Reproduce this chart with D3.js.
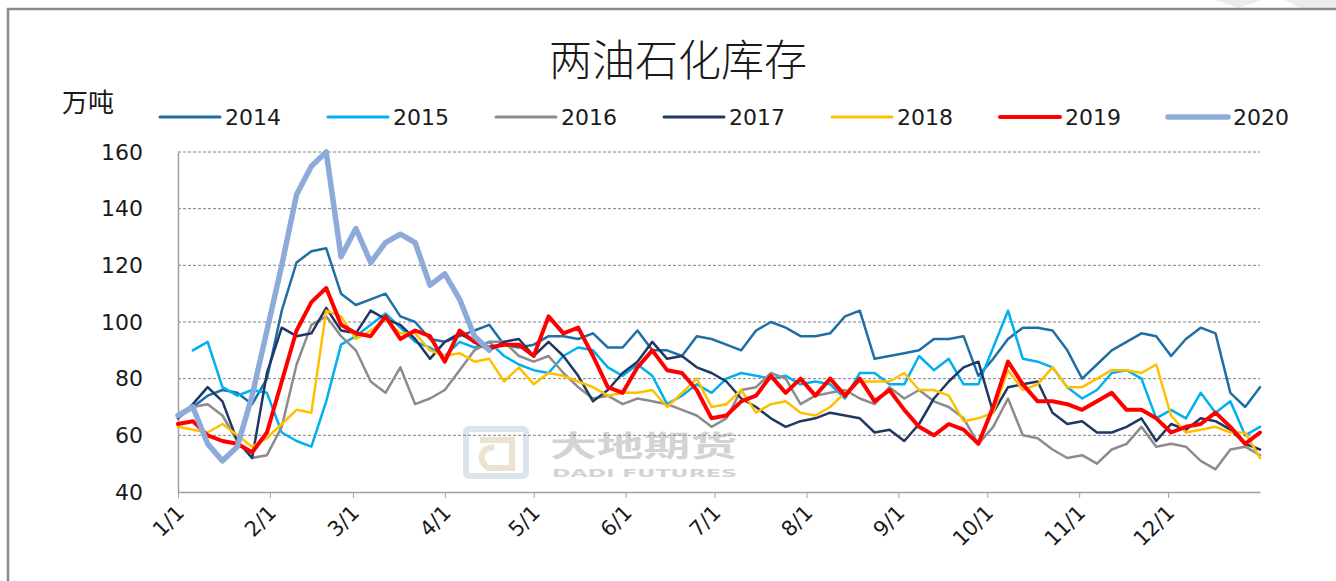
<!DOCTYPE html>
<html>
<head>
<meta charset="utf-8">
<script src="https://cdn.jsdelivr.net/npm/d3@7"></script>
<style>
  body { margin: 0; background: #fff; }
  svg { display: block; }
</style>
</head>
<body>
<svg id="chart"></svg>
<script>
// day offsets from 1/1 (one reading every 5 days)
const dayOffsets = [0,5,10,15,20,25,30,35,40,45,50,55,60,65,70,75,80,85,90,95,100,105,110,115,120,125,130,135,140,145,150,155,160,165,170,175,180,185,190,195,200,205,210,215,220,225,230,235,240,245,250,255,260,265,270,275,280,285,290,295,300,305,310,315,320,325,330,335,340,345,350,355,360,365];

const years = ['2014', '2015', '2016', '2017', '2018', '2019', '2020'];

const v2014 = [67,70,74,76,75,71,80,104,121,125,126,110,106,108,110,102,100,94,93,95,97,99,92,91,92,95,95,94,96,91,91,97,90,90,88,95,94,92,90,97,100,98,95,95,96,102,104,87,88,89,90,94,94,95,81,87,94,98,98,97,90,80,85,90,93,96,95,88,94,98,96,75,70,77];
const v2015 = [null,90,93,77,74,76,75,61,58,56,72,92,95,99,103,98,93,91,88,93,91,93,88,85,83,82,88,91,90,84,81,85,81,71,74,78,75,80,82,81,80,81,78,79,78,73,82,82,78,78,88,83,87,78,78,91,104,87,86,84,77,73,76,82,83,80,66,69,66,75,68,72,60,63];
const v2016 = [66,70,71,67,58,52,53,63,85,99,102,95,90,79,75,84,71,73,76,83,90,93,93,88,86,88,82,77,73,74,71,73,72,71,69,67,63,66,76,77,82,80,71,74,75,76,73,71,77,73,76,72,70,66,57,63,73,60,59,55,52,53,50,55,57,63,56,57,56,51,48,55,56,53];
const v2017 = [66,71,77,72,58,52,82,98,95,96,105,97,96,104,101,99,94,87,93,96,93,90,93,94,88,93,88,81,72,76,82,86,93,87,88,84,82,79,73,70,66,63,65,66,68,67,66,61,62,58,64,73,79,84,86,68,77,78,79,68,64,65,61,61,63,66,58,64,62,66,65,62,57,55];
const v2018 = [63,62,61,64,60,56,59,64,69,68,104,102,94,97,101,96,96,90,88,89,86,87,79,84,78,82,81,79,77,74,75,75,76,70,75,80,70,71,76,68,71,72,68,67,70,75,79,79,79,82,76,76,74,65,66,68,83,76,78,84,77,77,80,83,83,82,85,67,61,62,63,61,61,52];
const v2019 = [64,65,60,58,57,54,61,79,97,107,112,99,96,95,102,94,97,95,86,97,93,91,92,92,88,102,96,98,88,77,75,84,90,83,82,76,66,67,72,74,81,75,80,74,80,74,80,72,76,69,63,60,64,62,57,70,86,78,72,72,71,69,72,75,69,69,66,61,63,64,68,63,57,61];
const v2020 = [67,70,57,51,56,74,97,120,145,155,160,123,133,121,128,131,128,113,117,108,95,90];

const yTicks = [40, 60, 80, 100, 120, 140, 160];
const monthLabels = ['1/1','2/1','3/1','4/1','5/1','6/1','7/1','8/1','9/1','10/1','11/1','12/1'];

const seriesValues = [v2014, v2015, v2016, v2017, v2018, v2019, v2020];
const colors = ['#1f6ea5', '#00b0f0', '#8c8c8c', '#1f3864', '#ffc000', '#ff0000', '#8eaadb'];
const widths = [2.5, 2.5, 2.5, 2.5, 2.5, 4, 5.5];

const W = 1336, H = 581;
const plot = { left: 178, right: 1260, top: 152, bottom: 492 };
const start = new Date(2019, 0, 1);

const svg = d3.select('#chart').attr('width', W).attr('height', H);

// faint background shapes at the top right
svg.append('path')
    .attr('d', 'M1215,0 L1262,0 L1238,8 Z M1285,0 L1336,0 L1336,8 L1300,8 Z')
    .attr('fill', '#ececec');

// frame
svg.append('path')
    .attr('d', `M8,${H} L8,9 L${W},9`)
    .attr('fill', 'none')
    .attr('stroke', '#8a8a8a')
    .attr('stroke-width', 2.5);

// title
svg.append('text')
    .attr('x', 678).attr('y', 76)
    .attr('text-anchor', 'middle')
    .style('font-family', '"Noto Sans CJK SC", sans-serif')
    .style('font-weight', 300)
    .style('font-size', '43px')
    .attr('fill', '#1a1a1a')
    .text('两油石化库存');

svg.append('text')
    .attr('x', 62).attr('y', 112)
    .style('font-family', '"Noto Sans CJK SC", sans-serif')
    .style('font-size', '26px')
    .attr('fill', '#1a1a1a')
    .text('万吨');

const x = d3.scaleTime()
    .domain([start, new Date(2020, 0, 1)])
    .range([plot.left, plot.right]);

const y = d3.scaleLinear()
    .domain([40, 160])
    .range([plot.bottom, plot.top]);

// watermark
const wm = svg.append('g').attr('opacity', 0.5);
wm.append('rect')
    .attr('x', 466).attr('y', 429).attr('width', 60).attr('height', 47)
    .attr('rx', 3)
    .attr('fill', 'none')
    .attr('stroke', '#b9c9da')
    .attr('stroke-width', 6);
wm.append('path')
    .attr('d', 'M480,440 L512,440 L512,468 L488,468 C478,460 480,448 494,447')
    .attr('fill', 'none')
    .attr('stroke', '#d8c8a0')
    .attr('stroke-width', 6);
wm.append('text')
    .attr('x', 550).attr('y', 457)
    .attr('textLength', 187).attr('lengthAdjust', 'spacingAndGlyphs')
    .style('font-family', '"Noto Sans CJK SC", sans-serif')
    .style('font-weight', 'bold')
    .style('font-size', '29px')
    .attr('fill', '#a8a8a8')
    .text('大地期货');
wm.append('text')
    .attr('x', 552).attr('y', 477)
    .attr('textLength', 185).attr('lengthAdjust', 'spacingAndGlyphs')
    .style('font-family', '"DejaVu Sans", sans-serif')
    .style('font-weight', 'bold')
    .style('font-size', '11px')
    .attr('fill', '#a8a8a8')
    .text('DADI FUTURES');

// gridlines
svg.append('g')
    .selectAll('line')
    .data(yTicks.slice(1))
    .join('line')
    .attr('x1', plot.left).attr('x2', plot.right)
    .attr('y1', d => y(d)).attr('y2', d => y(d))
    .attr('stroke', '#808080')
    .attr('stroke-width', 1)
    .attr('stroke-dasharray', '3,2');

// y axis
const yAxis = svg.append('g')
    .attr('transform', `translate(${plot.left},0)`)
    .call(d3.axisLeft(y).tickValues(yTicks).tickSize(0).tickPadding(35));
yAxis.select('.domain').attr('stroke', '#a0a0a0').attr('stroke-width', 1.5);
yAxis.selectAll('text')
    .style('font-family', '"DejaVu Sans", sans-serif')
    .style('font-size', '22px')
    .attr('fill', '#1a1a1a');

// x axis
const months = d3.timeMonth.range(start, new Date(2019, 11, 2));
const xAxis = svg.append('g')
    .attr('transform', `translate(0,${plot.bottom})`)
    .call(d3.axisBottom(x)
        .tickValues(months)
        .tickFormat((d, i) => monthLabels[i])
        .tickSize(6)
        .tickSizeOuter(0));
xAxis.select('.domain').attr('stroke', '#a0a0a0').attr('stroke-width', 1.5);
xAxis.selectAll('.tick line').attr('stroke', '#a0a0a0');
xAxis.selectAll('text')
    .attr('y', 0).attr('dy', 0)
    .attr('text-anchor', 'end')
    .attr('transform', 'translate(7,22) rotate(-45)')
    .style('font-family', '"DejaVu Sans", sans-serif')
    .style('font-size', '21px')
    .attr('fill', '#1a1a1a');

// lines
const line = d3.line()
    .defined(d => d.v != null)
    .x(d => x(d3.timeDay.offset(start, d.day)))
    .y(d => y(d.v));

const lines = svg.append('g');
seriesValues.forEach((vals, i) => {
    const pts = vals.map((v, j) => ({ day: dayOffsets[j], v: v }));
    lines.append('path')
        .datum(pts)
        .attr('d', line)
        .attr('fill', 'none')
        .attr('stroke', colors[i])
        .attr('stroke-width', widths[i])
        .attr('stroke-linejoin', 'round')
        .attr('stroke-linecap', 'round');
});

// legend
const legend = svg.append('g');
years.forEach((yr, i) => {
    const lx = 160 + i * 168;
    legend.append('line')
        .attr('x1', lx).attr('x2', lx + 60)
        .attr('y1', 117).attr('y2', 117)
        .attr('stroke', colors[i])
        .attr('stroke-width', i === 6 ? 5.5 : (i === 5 ? 4 : 3))
        .attr('stroke-linecap', 'round');
    legend.append('text')
        .attr('x', lx + 65).attr('y', 117)
        .attr('dominant-baseline', 'central')
        .style('font-family', '"DejaVu Sans", sans-serif')
        .style('font-size', '22px')
        .attr('fill', '#1a1a1a')
        .text(yr);
});
</script>
</body>
</html>
